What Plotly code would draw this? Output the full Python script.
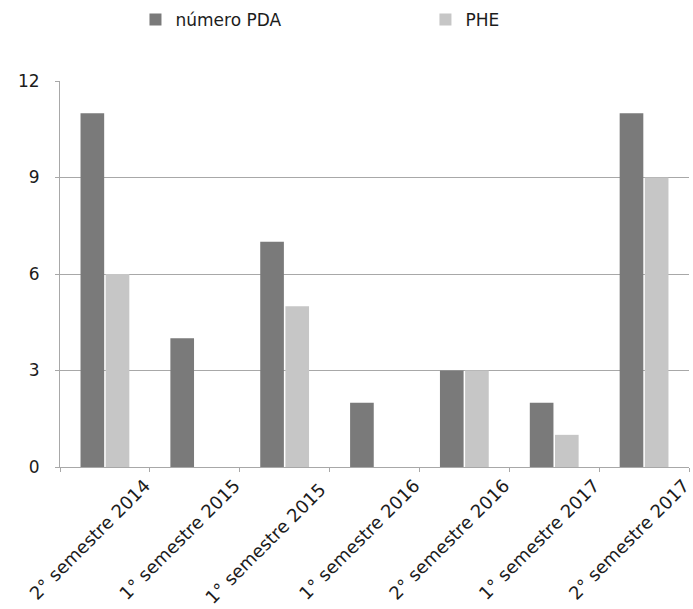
import plotly.graph_objects as go

# The source lists "1° semestre 2015" twice; a trailing space keeps the two
# category slots distinct while drawing identical text.
categories = [
    "2° semestre 2014",
    "1° semestre 2015",
    "1° semestre 2015 ",
    "1° semestre 2016",
    "2° semestre 2016",
    "1° semestre 2017",
    "2° semestre 2017",
]
numero_pda = [11, 4, 7, 2, 3, 2, 11]
phe = [6, 0, 5, 0, 3, 1, 9]
y_ticks = [0, 3, 6, 9, 12]

FONT = "DejaVu Sans"
TEXT = "#1c1c1c"
GRID = "#a8a8a8"

fig = go.Figure()
fig.add_trace(go.Bar(
    name="número PDA", x=categories, y=numero_pda,
    marker=dict(color="#7a7a7a", line=dict(width=0)),
    legend="legend",
))
fig.add_trace(go.Bar(
    name="PHE", x=categories, y=phe,
    marker=dict(color="#c6c6c6", line=dict(width=0)),
    legend="legend2",
))

legend_common = dict(
    orientation="h", xanchor="left",
    y=1 - 20 / 609, yanchor="middle", yref="container",
    font=dict(size=17, family=FONT, color=TEXT),
    bgcolor="rgba(0,0,0,0)",
)

fig.update_layout(
    width=693, height=609,
    margin=dict(l=60, r=0, t=81, b=142),
    paper_bgcolor="white", plot_bgcolor="white",
    barmode="group", bargap=0.44, bargroupgap=0.06,
    font=dict(family=FONT, color=TEXT, size=16),
    showlegend=True,
    legend=dict(x=0.12, **legend_common),
    legend2=dict(x=0.581, **legend_common),
    xaxis=dict(
        type="category", range=[-0.5, 6.5],
        showline=True, linecolor=GRID, linewidth=1,
        ticks="outside", ticklen=4, tickcolor=GRID,
        tickson="boundaries",
        tickangle=-45, tickfont=dict(size=18, family=FONT, color=TEXT),
        ticklabelshift=40,
        showgrid=False,
    ),
    yaxis=dict(
        range=[0, 12], tickvals=y_ticks,
        showgrid=True, gridcolor=GRID, gridwidth=1,
        showline=True, linecolor=GRID, linewidth=1,
        ticks="outside", ticklen=4, tickcolor=GRID,
        ticklabelstandoff=12,
        tickfont=dict(size=17, family=FONT, color=TEXT),
        zeroline=False,
    ),
)

fig.write_html("out.html")
